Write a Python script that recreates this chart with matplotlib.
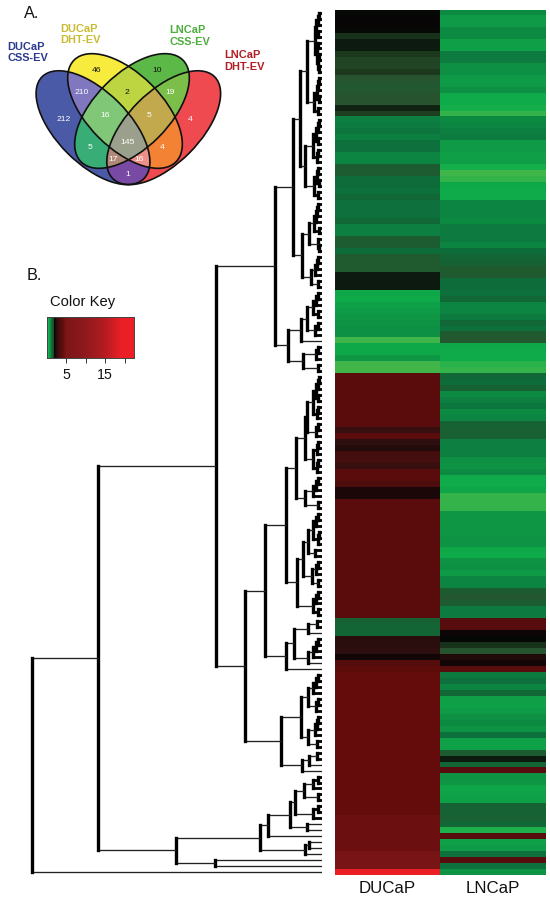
import numpy as np
import matplotlib
matplotlib.use("Agg")
import matplotlib.pyplot as plt
from matplotlib.colors import LinearSegmentedColormap, to_rgb, Normalize
from matplotlib.patches import Ellipse

plt.rcParams['font.family'] = ['Liberation Sans', 'DejaVu Sans']

# ---- heatmap values, one per row, top to bottom ----
samples = ["DUCaP", "LNCaP"]
ducap = [2.0,2.05,2.05,2.0,1.9,1.95,1.95,1.88,1.82,1.82,1.88,1.75,1.7,1.7,1.75,1.75,1.93,1.85,
         1.15,1.2,1.25,1.15,1.3,1.3,1.1,1.1,1.6,1.6,1.35,1.35,
         1.3,1.4,1.3,1.3,1.3,1.4,1.15,1.15,1.6,1.6,1.35,1.65,1.65,1.65,1.95,1.95,1.95,0.6,0.55,0.7,
         0.85,0.9,0.95,1.0,1.0,0.3,0.6,0.6,0.9,0.3,0.25,
         3.9,3.9,3.9,3.9,3.9,3.9,3.9,3.9,3.9,3.0,3.9,2.8,2.5,3.3,3.3,3.0,3.9,3.9,3.5,2.3,2.3,
         3.9,3.9,3.9,3.9,3.9,3.9,3.9,3.9,3.9,3.9,3.9,3.9,3.9,3.9,3.9,3.9,3.9,3.9,3.9,3.9,
         1.5,1.45,1.45,2.7,2.7,2.8,2.2,3.7,4.0,
         4.2,4.2,4.2,4.2,4.2,4.2,4.2,4.2,4.2,4.2,4.2,4.2,4.2,4.2,4.2,4.2,4.2,4.2,4.2,4.2,4.2,4.2,4.2,4.2,
         4.5,4.5,4.5,4.5,4.5,4.5,4.9,4.9,4.9,20.0]
lncap = [1.05,.85,.85,1.05,1.05,.75,.75,1.2,1.2,1.0,1.0,.85,.85,1.0,.55,.55,.5,.35,
         1.05,1.1,1.15,1.2,.85,.85,.75,.75,.5,.3,.35,.6,
         .55,.55,1.1,1.1,1.1,1.05,1.2,1.2,1.2,1.1,1.35,1.45,1.5,1.65,1.65,1.35,1.35,1.3,1.4,1.1,
         1.1,1.2,1.4,1.3,1.65,1.7,.6,.55,.55,.4,.35,
         1.4,
         1.35,1.5,1.05,1.15,1.25,1.05,1.1,1.5,1.55,1.55,1.15,1.15,1.15,1.0,.95,1.05,.55,.55,.65,.35,
         .35,.35,.9,.9,.9,.9,.95,.95,.6,.55,.95,1.0,
         .85,1.1,1.1,1.6,1.7,1.6,1.2,1.2,
         3.8,3.8,2.1,2.0,1.9,1.75,2.4,2.2,3.8,
         1.2,1.3,1.1,1.4,.75,.7,.85,1.0,1.05,
         .95,1.3,.7,.7,1.6,1.95,1.45,3.8,.95,.9,.65,.7,.75,1.5,1.5,1.55,1.4,.45,3.8,.7,.85,1.3,3.8,1.3,.95]

# ---- colour scale stops: value, colour ----
scale_values = [0, .3, .5, 1.0, 1.2, 1.35, 1.6, 1.75, 1.85, 1.95, 2.0, 2.3, 2.8, 3.5, 4.2, 5, 10, 15, 19, 22.4]
scale_colors = ['#4cb748', '#40b54a', '#10ae4b', '#0e9044', '#0d7a40', '#0f6b3a', '#1e5c30', '#28552f',
                '#1f3d20', '#0c1a0f', '#050505', '#1c0808', '#2e1010', '#4e0e0e', '#640c0c', '#7c1618',
                '#8e1a1e', '#b41c22', '#e81f26', '#ee2024']
key_ticks = [5, 10, 15, 20]
key_ticklabels = ['5', '', '15', '']

# ---- dendrogram: [merge distance, child, child]; integers are rows ----
t_a = [15, [7, [5.5, [4, [3, 1, 2], 3], [3.5, 4, 5]], [5, [4, 6, 7], [3.5, [2.5, 8, 9], [2.5, 10, 11]]]],
       [8, [5, [4, [3, 12, 13], 14], [3, 15, 16]], [4, 17, 18]]]
t_b = [17, [9, [6, [4, [3, 19, 20], 21], [3.5, 22, 23]], [5, [3.5, 24, 25], 26]],
       [8, [5, [3.5, 27, 28], [3, 29, 30]], [3.5, 31, 32]]]
t_c = [20, [13, [8, [6, [5, [4, 33, 34], 35], 36], [3, 37, 38]], [4, 39, [2.5, 40, 41]]],
       [11, [7, [5, [3.5, 42, 43], 44], 45], [3.5, 46, 47]]]
t_d = [34, [21, [15, [9, [6, [4, 48, 49], 50], [3.5, 51, 52]], [7, [3.5, 53, 54], 55]], 56],
       [19, [6, [3.5, 57, 58], 59], [4, 60, 61]]]
t_e = [47, [29, [22, t_a, t_b], t_c], t_d]
t_f = [26, [17, [15, [9, [6, [4, [3, 62, 63], 64], [3.5, 65, 66]], [5, [3.5, 67, 68], 69]], [6, [3.5, 70, 71], 72]],
            [9, [5, [3.5, 73, 74], 75], [5, [3.5, 76, 77], 78]]],
       [17, [9, [6, [3.5, 79, 80], 81], 82], [4, 83, 84]]]
t_g = [25, [19, [14, [9, [6, [4, 85, 86], 87], [4, [3, 88, 89], 90]], [7, 91, 92]],
            [10, [6, [3.5, 93, 94], 95], [4, 96, 97]]],
       [9, [6, [4, 98, 99], 100], [3.5, 101, 102]]]
t_h = [36, [28, [14, [5, 103, 104], 105], [14, [9, [6, [4, 106, 107], 108], 109], 110]], 111]
t_i = [41, [21, [14, [9, [6, [4, 112, 113], 114], 115], [6, [3.5, 116, 117], 118]],
            [14, [7, [5, [3.5, 119, 120], 121], 122], [5, 123, 124]]],
       [20, [13, [5, 125, 126], 127], 128]]
t_j = [62, [53.5, [32, [27, [17.5, [9, [4, 129, 130], 131], [4, 132, 133]], [9, [4, 134, 135], 136]],
                   [15, 137, 138]], 139],
       [17, [13, 140, 141], 142]]
tree = [290, [224, [106, t_e, [77, [57, [36, t_f, t_g], t_h], t_i]], [146, t_j, [107, 143, 144]]], 145]

# ---- Venn diagram ----
venn_order = ['blue', 'yellow', 'green', 'red']
region_colors = {
    (): '#ffffff', ('blue',): '#4b5aa8', ('yellow',): '#f8ec3e', ('green',): '#5cb947', ('red',): '#ee4a50',
    ('blue', 'yellow'): '#7f78bf', ('yellow', 'green'): '#bcd642', ('green', 'red'): '#7cc04a',
    ('blue', 'green'): '#38ad76', ('yellow', 'red'): '#f58235', ('blue', 'red'): '#7a4aa4',
    ('blue', 'yellow', 'green'): '#80c878', ('yellow', 'green', 'red'): '#c2a94e',
    ('blue', 'green', 'red'): '#b08a78', ('blue', 'yellow', 'red'): '#ee9088',
    ('blue', 'yellow', 'green', 'red'): '#9aa08c'}
venn_counts = ['212', '210', '46', '10', '2', '19', '16', '5', '4', '5', '145', '4', '17', '16', '1']
venn_count_xy = [(63.3, 119.5), (81.7, 92), (96.7, 70), (156.7, 70), (126.7, 92), (170, 92), (105, 115.7),
                 (149, 115.7), (190, 119.5), (90, 147.7), (127.3, 142.7), (162.3, 147.7), (113.3, 159.3),
                 (139.3, 159.3), (127.7, 174)]
venn_count_col = ['w', 'w', 'k', 'k', 'k', 'w', 'w', 'w', 'w', 'w', 'w', 'w', 'w', 'w', 'w']

W, H = 550, 903
fig = plt.figure(figsize=(W / 100, H / 100), dpi=100)


def rect(x0, y0, x1, y1):
    return [x0 / W, 1 - y1 / H, (x1 - x0) / W, (y1 - y0) / H]


assert len(ducap) == 145 and len(lncap) == 145

cmap = LinearSegmentedColormap.from_list(
    'key', [(v / scale_values[-1], c) for v, c in zip(scale_values, scale_colors)], N=1024)
norm = Normalize(0, scale_values[-1])

# page axes in pixel units
page = fig.add_axes([0, 0, 1, 1])
page.set_xlim(0, W)
page.set_ylim(H, 0)
page.axis('off')

# Venn regions
ellipses = {'blue': (93, 128.7, 45, 36), 'yellow': (125, 112, 45, 37.3),
            'green': (132, 112, -45, 37.3), 'red': (163.7, 128.7, -45, 36)}
semi_major = 72
gx, gy = np.meshgrid(np.arange(20, 230, 0.25), np.arange(40, 200, 0.25))
inside = {}
for name, (cx, cy, ang, b) in ellipses.items():
    t = np.deg2rad(ang)
    u = (gx - cx) * np.cos(t) + (gy - cy) * np.sin(t)
    v = -(gx - cx) * np.sin(t) + (gy - cy) * np.cos(t)
    inside[name] = (u / semi_major) ** 2 + (v / b) ** 2 <= 1
img = np.ones(gx.shape + (4,))
img[..., 3] = 0
for members, col in region_colors.items():
    if not members:
        continue
    mask = np.ones(gx.shape, bool)
    for name in venn_order:
        mask &= inside[name] if name in members else ~inside[name]
    img[mask] = (*to_rgb(col), 1)
page.imshow(img, extent=(20, 230, 200, 40), aspect='auto', interpolation='bilinear', zorder=1)
page.set_xlim(0, W)
page.set_ylim(H, 0)
for name, (cx, cy, ang, b) in ellipses.items():
    page.add_patch(Ellipse((cx, cy), 2 * semi_major, 2 * b, angle=ang, fill=False, ec='#101010', lw=1.2, zorder=2))
for s, (x, y), c in zip(venn_counts, venn_count_xy, venn_count_col):
    page.text(x, y, s, ha='center', va='center', fontsize=6.1, color='white' if c == 'w' else '#111111', zorder=3)

label_kw = dict(fontsize=7.9, fontweight='bold', ha='left', va='center', linespacing=1.2)
page.text(7, 52.5, 'DUCaP\nCSS-EV', color='#2b3990', **label_kw)
page.text(60.5, 34.5, 'DUCaP\nDHT-EV', color='#c9bb33', **label_kw)
page.text(169.5, 36, 'LNCaP\nCSS-EV', color='#4cae3c', **label_kw)
page.text(224.5, 61, 'LNCaP\nDHT-EV', color='#b01e24', **label_kw)
page.text(24, 13.5, 'A.', fontsize=11.7, ha='left', va='center', color='#111111')
page.text(27, 276, 'B.', fontsize=11.7, ha='left', va='center', color='#111111')
page.text(50.5, 302, 'Color Key', fontsize=10.6, ha='left', va='center', color='#111111')

# heatmap
hm = fig.add_axes(rect(335, 10.7, 545.7, 876))
hm.imshow(np.column_stack([ducap, lncap]), cmap=cmap, norm=norm, aspect='auto', interpolation='nearest',
          extent=(0, 2, 145.5, 0.5))
hm.set_xticks([0.5, 1.5], samples, fontsize=12.2, color='#111111')
hm.tick_params(length=0, pad=3.5, left=False, labelleft=False)
hm.set_yticks([])
for s in hm.spines.values():
    s.set_visible(False)

# dendrogram
den = fig.add_axes(rect(0, 10.7, 322, 876))
den.set_xlim(322, 0)
den.set_ylim(145.5, 0.5)
den.axis('off')


def draw(node):
    if isinstance(node, int):
        return 0.0, float(node)
    d, a, b = node
    da, ya = draw(a)
    db, yb = draw(b)
    stem = 2.0 if d < 10 else 0.95
    den.plot([da, d], [ya, ya], color='black' if d < 10 else '#222222', lw=stem, solid_capstyle='butt')
    den.plot([db, d], [yb, yb], color='black' if d < 10 else '#222222', lw=stem, solid_capstyle='butt')
    den.plot([d, d], [ya, yb], color='black', lw=2.4, solid_capstyle='projecting')
    return d, (ya + yb) / 2


draw(tree)

# colour key
key = fig.add_axes(rect(47.3, 318, 134, 359))
levels = np.linspace(0.2, 22.4, 223)[None, :]
key.imshow(levels, cmap=cmap, norm=norm, aspect='auto', extent=(0.2, 22.4, 0, 1), interpolation='nearest')
key.set_yticks([])
key.set_xticks(key_ticks, key_ticklabels, fontsize=10.2, color='#111111')
key.tick_params(axis='x', length=3.5, width=0.7, pad=3, color='#333333')
for s in key.spines.values():
    s.set_linewidth(0.7)
    s.set_color('#444444')

fig.savefig('out.png', dpi=100)
